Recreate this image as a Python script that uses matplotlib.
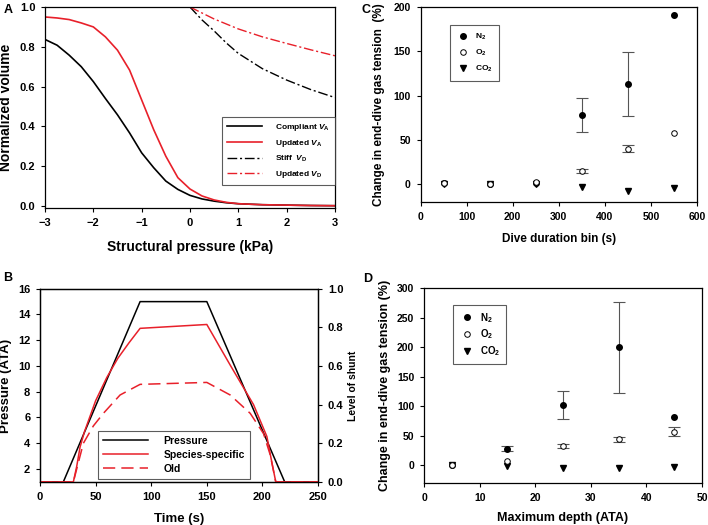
import matplotlib.pyplot as plt

plt.rcParams['font.family'] = ['Liberation Sans', 'DejaVu Sans']
plt.rcParams['font.weight'] = 'bold'
plt.rcParams['mathtext.fontset'] = 'custom'
plt.rcParams['mathtext.rm'] = 'Liberation Sans:bold'
plt.rcParams['mathtext.it'] = 'Liberation Sans:italic:bold'
plt.rcParams['mathtext.bf'] = 'Liberation Sans:bold'
plt.rcParams['axes.linewidth'] = 0.9

# Panel A: normalized volume vs structural pressure
p_va = [-3, -2.75, -2.5, -2.25, -2, -1.75, -1.5, -1.25, -1, -0.75, -0.5, -0.25,
        0, 0.25, 0.5, 0.75, 1, 1.5, 2, 2.5, 3]
compliant_va = [0.837, 0.808, 0.758, 0.70, 0.625, 0.54, 0.458, 0.367, 0.267, 0.192,
                0.125, 0.083, 0.053, 0.035, 0.024, 0.016, 0.011, 0.006, 0.004, 0.002, 0.001]
updated_va = [0.95, 0.945, 0.937, 0.92, 0.90, 0.85, 0.783, 0.683, 0.533, 0.383,
              0.25, 0.142, 0.085, 0.05, 0.03, 0.018, 0.011, 0.006, 0.004, 0.002, 0.001]
p_vd = [0, 0.25, 0.5, 0.75, 1, 1.5, 2, 2.5, 3]
stiff_vd = [1.0, 0.935, 0.88, 0.82, 0.767, 0.69, 0.633, 0.585, 0.545]
updated_vd = [1.0, 0.97, 0.94, 0.915, 0.89, 0.85, 0.817, 0.785, 0.755]

# Panel B: dive profile and shunt
t_pressure = [0, 21, 90, 150, 220, 250]
pressure = [1, 1, 15, 15, 1, 1]
t_species = [0, 30, 33, 36, 40, 50, 60, 70, 80, 90, 150, 171, 192, 204, 208, 212, 250]
species_shunt = [0, 0, 0.08, 0.18, 0.26, 0.42, 0.54, 0.64, 0.72, 0.795, 0.815,
                 0.605, 0.40, 0.235, 0.115, 0, 0]
t_old = [0, 30, 39, 48, 57, 72, 90, 150, 171, 189, 201, 207, 212, 250]
old_shunt = [0, 0, 0.2, 0.29, 0.355, 0.45, 0.505, 0.515, 0.45, 0.355, 0.25, 0.14, 0, 0]

# Panel C: dive duration bins
duration_bin = [50, 150, 250, 350, 450, 550]
c_n2 = [1, 0, 2, 78, 113, 191]
c_n2_err = [0, 0, 0, 19, 36, 0]
c_o2 = [1, 0, 3, 15, 40, 58]
c_o2_err = [0, 0, 0, 2, 4, 0]
c_co2 = [0, 0, 0, -3, -8, -4]

# Panel D: maximum depth bins
depth_bin = [5, 15, 25, 35, 45]
d_n2 = [0, 28, 102, 200, 81]
d_n2_err = [0, 4, 23, 77, 0]
d_o2 = [0, 8, 33, 44, 57]
d_o2_err = [0, 0, 3, 4, 8]
d_co2 = [0, -1, -5, -5, -3]

fig = plt.figure(figsize=(7.08, 5.25), dpi=100)

tick_kw = dict(direction='out', length=3, width=0.8, labelsize=8, pad=4)

# ---- A ----
axA = fig.add_axes([0.0636, 0.604, 0.4094, 0.3826])
axA.plot(p_va, compliant_va, color='black', lw=1.2, label=r'Compliant $\mathit{V}_{\mathrm{A}}$')
axA.plot(p_va, updated_va, color='#e8202a', lw=1.2, label=r'Updated $\mathit{V}_{\mathrm{A}}$')
axA.plot(p_vd, stiff_vd, color='black', lw=1.0, dashes=[7, 2, 1.5, 2], label=r'Stiff  $\mathit{V}_{\mathrm{D}}$')
axA.plot(p_vd, updated_vd, color='#e8202a', lw=1.0, dashes=[7, 2, 1.5, 2], label=r'Updated $\mathit{V}_{\mathrm{D}}$')
axA.set_xlim(-3, 3)
axA.set_ylim(-0.01, 1.0)
axA.set_xticks([-3, -2, -1, 0, 1, 2, 3])
axA.set_yticks([0, 0.2, 0.4, 0.6, 0.8, 1.0])
axA.set_yticklabels(['0.0', '0.2', '0.4', '0.6', '0.8', '1.0'])
axA.tick_params(**tick_kw)
axA.set_xlabel('Structural pressure (kPa)', fontsize=10, fontweight='bold')
axA.set_ylabel('Normalized volume', fontsize=10, fontweight='bold')
axA.xaxis.set_label_coords(0.5, -0.16)
axA.yaxis.set_label_coords(-0.11, 0.5)
legA = axA.legend(loc='lower right', fontsize=6, frameon=True, fancybox=False,
                  edgecolor='#333333', handlelength=4.3, borderpad=0.6, labelspacing=0.6,
                  handletextpad=1.5, bbox_to_anchor=(1.0, 0.114), borderaxespad=0)
legA.get_frame().set_linewidth(0.8)

# ---- B ----
axB = fig.add_axes([0.0565, 0.081, 0.3927, 0.369])
axB2 = axB.twinx()
lp, = axB.plot(t_pressure, pressure, color='black', lw=1.1, label='Pressure')
ls, = axB2.plot(t_species, species_shunt, color='#e8202a', lw=1.1, label='Species-specific')
lo, = axB2.plot(t_old, old_shunt, color='#e8202a', lw=1.1, dashes=[8, 4], label='Old')
axB.set_xlim(0, 250)
axB.set_ylim(0.95, 16)
axB2.set_ylim(-0.003, 1.0)
axB.set_xticks([0, 50, 100, 150, 200, 250])
axB.set_yticks([2, 4, 6, 8, 10, 12, 14, 16])
axB2.set_yticks([0, 0.2, 0.4, 0.6, 0.8, 1.0])
axB2.set_yticklabels(['0.0', '0.2', '0.4', '0.6', '0.8', '1.0'])
axB.tick_params(**tick_kw)
axB2.tick_params(**tick_kw)
axB.set_xlabel('Time (s)', fontsize=9.5, fontweight='bold')
axB.set_ylabel('Pressure (ATA)', fontsize=9.5, fontweight='bold')
axB.xaxis.set_label_coords(0.5, -0.16)
axB.yaxis.set_label_coords(-0.1, 0.5)
fig.text(0.4985, 0.265, 'Level of shunt', rotation=90, ha='center', va='center',
         fontsize=7.5, fontweight='bold')
legB = axB.legend(handles=[lp, ls, lo], loc='lower left', bbox_to_anchor=(0.21, 0.02),
                  fontsize=7.5, frameon=True, fancybox=False, edgecolor='#333333',
                  handlelength=4.3, borderpad=0.45, labelspacing=0.4, handletextpad=1.5,
                  borderaxespad=0)
legB.get_frame().set_linewidth(0.8)
for txt in legB.get_texts():
    txt.set_fontweight('bold')

def scatter_panel(ax, x, n2, n2_err, o2, o2_err, co2):
    # only draw error bars where there is an error value
    for vals, errs in ((n2, n2_err), (o2, o2_err)):
        xs = [xi for xi, e in zip(x, errs) if e > 0]
        ys = [yi for yi, e in zip(vals, errs) if e > 0]
        es = [e for e in errs if e > 0]
        ax.errorbar(xs, ys, yerr=es, fmt='none', ecolor='#555555', elinewidth=0.8,
                    capsize=4, capthick=0.8, zorder=1)
    ax.plot(x, co2, linestyle='none', marker='v', ms=4, color='black',
            label=r'CO$_2$', zorder=2)
    ax.plot(x, n2, linestyle='none', marker='o', ms=4, color='black',
            label=r'N$_2$', zorder=3)
    ax.plot(x, o2, linestyle='none', marker='o', ms=4, mfc='white', mec='black',
            mew=0.7, label=r'O$_2$', zorder=4)
    h, l = ax.get_legend_handles_labels()
    order = [1, 2, 0]
    return [h[i] for i in order], [l[i] for i in order]

# ---- C ----
axC = fig.add_axes([0.594, 0.615, 0.3905, 0.3717])
h, l = scatter_panel(axC, duration_bin, c_n2, c_n2_err, c_o2, c_o2_err, c_co2)
axC.set_xlim(0, 600)
axC.set_ylim(-20, 200)
axC.set_xticks([0, 100, 200, 300, 400, 500, 600])
axC.set_yticks([0, 50, 100, 150, 200])
axC.tick_params(**tick_kw)
axC.tick_params(labelsize=7.5)
axC.set_xlabel('Dive duration bin (s)', fontsize=8.5, fontweight='bold')
axC.set_ylabel('Change in end-dive gas tension  (%)', fontsize=8.5, fontweight='bold')
axC.xaxis.set_label_coords(0.5, -0.16)
axC.yaxis.set_label_coords(-0.127, 0.5)
legC = axC.legend(h, l, loc='upper left', bbox_to_anchor=(0.105, 0.908), fontsize=6,
                  frameon=True, fancybox=False, edgecolor='#333333', borderpad=0.8,
                  labelspacing=0.7, handletextpad=0.6, handlelength=1.6, borderaxespad=0)
legC.get_frame().set_linewidth(0.8)

# ---- D ----
axD = fig.add_axes([0.599, 0.08, 0.3925, 0.3714])
h, l = scatter_panel(axD, depth_bin, d_n2, d_n2_err, d_o2, d_o2_err, d_co2)
axD.set_xlim(0, 50)
axD.set_ylim(-30, 300)
axD.set_xticks([0, 10, 20, 30, 40, 50])
axD.set_yticks([0, 50, 100, 150, 200, 250, 300])
axD.tick_params(**tick_kw)
axD.tick_params(labelsize=7.5)
axD.set_xlabel('Maximum depth (ATA)', fontsize=9, fontweight='bold')
axD.set_ylabel('Change in end-dive gas tension (%)', fontsize=9, fontweight='bold')
axD.xaxis.set_label_coords(0.5, -0.15)
axD.yaxis.set_label_coords(-0.12, 0.5)
legD = axD.legend(h, l, loc='upper left', bbox_to_anchor=(0.104, 0.913), fontsize=7,
                  frameon=True, fancybox=False, edgecolor='#333333', borderpad=0.6,
                  labelspacing=0.3, handletextpad=0.6, handlelength=1.6, borderaxespad=0)
legD.get_frame().set_linewidth(0.8)

# panel letters
fig.text(0.005, 0.993, 'A', fontsize=9, fontweight='bold', va='top')
fig.text(0.005, 0.482, 'B', fontsize=9, fontweight='bold', va='top')
fig.text(0.511, 0.993, 'C', fontsize=9, fontweight='bold', va='top')
fig.text(0.513, 0.480, 'D', fontsize=9, fontweight='bold', va='top')

plt.savefig('out.png', dpi=100)
